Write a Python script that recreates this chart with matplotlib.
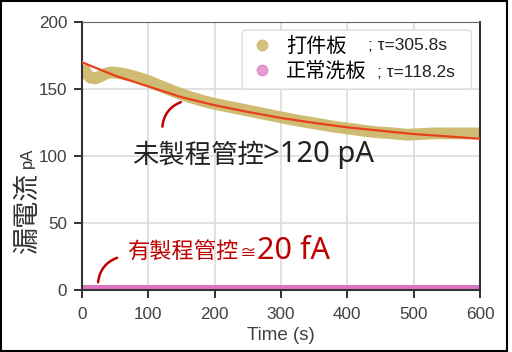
import matplotlib
matplotlib.use("Agg")
import matplotlib.pyplot as plt
from matplotlib.lines import Line2D
from matplotlib.patches import Rectangle, FancyBboxPatch

CJK = ["Noto Sans CJK TC", "DejaVu Sans"]
LATIN = ["Liberation Sans", "DejaVu Sans"]
MIXED = ["Noto Sans", "Noto Sans CJK TC", "DejaVu Sans"]

# measured leakage current of the "打件板" board (pA)
board_t = [0, 4, 8, 13, 20, 28, 36, 45, 55, 70, 85, 100, 120, 140, 160, 180,
           200, 230, 260, 290, 320, 350, 380, 410, 440, 470, 490, 510, 530, 560, 600]
board_pa = [167, 164, 161, 158.5, 158, 159.5, 161.5, 162.5, 162, 160.5, 158.5,
            156, 152, 148, 144.5, 141.5, 139, 136, 133, 130, 127, 124.5, 122, 120,
            118, 117, 116, 116.5, 117, 117, 117]

# fitted decay curve (tau = 305.8 s)
fit_t = [0, 50, 100, 150, 200, 250, 300, 350, 400, 450, 500, 550, 600]
fit_pa = [170, 160, 152, 144, 138, 133, 128.5, 124.8, 121.5, 119, 116.5, 114.8, 113]

# normally washed board, ~20 fA
clean_t = [0, 600]
clean_pa = [2.2, 2.2]

legend_names = ["打件板", "正常洗板"]
legend_taus = ["; τ=305.8s", "; τ=118.2s"]

TAN = "#cdb96a"
PINK = "#dd74bf"
FIT = "#e8401c"
DARKRED = "#c00000"
TXT = "#404040"

fig = plt.figure(figsize=(5.12, 3.52), dpi=100)
ax = fig.add_axes([0.160, 0.175, 0.7775, 0.7625])

ax.plot(board_t, board_pa, color=TAN, lw=8.5, alpha=0.95, solid_capstyle="butt", zorder=2)
ax.plot(fit_t, fit_pa, color=FIT, lw=1.6, zorder=3)
ax.plot(clean_t, clean_pa, color=PINK, lw=3.6, solid_capstyle="butt", zorder=2)

ax.set_xlim(0, 600)
ax.set_ylim(0, 200)
ax.set_xticks(range(0, 601, 100))
ax.set_yticks(range(0, 201, 50))
ax.grid(True, color="#dcdcdc", lw=1.2)
ax.set_axisbelow(True)
for s in ("left", "bottom", "right"):
    ax.spines[s].set_color("#333333")
    ax.spines[s].set_linewidth(1.5)
ax.spines["top"].set_color("#666666")
ax.tick_params(axis="both", colors="#333333", labelcolor=TXT, labelsize=12.3,
               length=5.5, width=1.4)
ax.tick_params(axis="x", pad=6.5)
ax.tick_params(axis="y", pad=5)
for lab in ax.get_xticklabels() + ax.get_yticklabels():
    lab.set_family(LATIN)
ax.set_xlabel("Time (s)", fontsize=13.5, color=TXT, family=LATIN, labelpad=3.5)

# y label: chinese part big, unit small
ax.text(-0.138, 0.292, "漏電流", rotation=90, transform=ax.transAxes,
        ha="center", va="center", fontsize=19.5, color="#333333", family=CJK)
ax.text(-0.138, 0.493, "pA", rotation=90, transform=ax.transAxes,
        ha="center", va="center", fontsize=12, color="#333333", family=LATIN)

# legend: frame drawn separately so the tau notes can sit beside the names
ax.add_patch(FancyBboxPatch((0.4025, 0.750), 0.576, 0.220, transform=ax.transAxes,
                            boxstyle="round,pad=0,rounding_size=0.01",
                            facecolor="white", edgecolor="#dddddd", lw=1, zorder=4.5))
handles = [Line2D([], [], ls="", marker="o", ms=7.5, color=TAN, alpha=0.85),
           Line2D([], [], ls="", marker="o", ms=7.5, color=PINK, alpha=0.7)]
leg = ax.legend(handles, legend_names, loc="upper left",
                bbox_to_anchor=(0.4025, 0.970), prop={"family": CJK, "size": 14.5},
                handletextpad=0.5, handlelength=1.4, labelspacing=0.2, borderpad=0.3,
                borderaxespad=0, frameon=False)
leg.set_zorder(5)
for x, y, tau in zip([0.7195, 0.742], [0.914, 0.810], legend_taus):
    ax.text(x, y, tau, transform=ax.transAxes, ha="left", va="center",
            fontsize=12.5, color="#222222", family=LATIN, zorder=10)

# annotations: black text (chinese + latin part sized separately)
ax.annotate("", xy=(153, 141), xytext=(121, 120),
            arrowprops=dict(arrowstyle="-", color=DARKRED, lw=1.8,
                            connectionstyle="arc3,rad=-0.35"))
ax.text(75.5, 101, "未製程管控", fontsize=19, color="#222222", family=CJK,
        ha="left", va="center")
ax.text(273, 101, ">120 pA", fontsize=21, color="#222222", family=MIXED,
        ha="left", va="center")

ax.annotate("", xy=(57, 25), xytext=(24, 4),
            arrowprops=dict(arrowstyle="-", color=DARKRED, lw=1.8,
                            connectionstyle="arc3,rad=-0.35"))
ax.text(68, 29, "有製程管控", fontsize=16, color=DARKRED, family=CJK,
        ha="left", va="center")
ax.text(238, 27, "≅", fontsize=12, color=DARKRED, family=MIXED,
        ha="left", va="center")
ax.text(264, 29, "20 fA", fontsize=22, color=DARKRED, family=MIXED,
        ha="left", va="center")

# outer frame of the picture
fig.patches.append(Rectangle((0.002, 0.004), 0.988, 0.992, transform=fig.transFigure,
                             fill=False, edgecolor="black", lw=1.5))

fig.savefig("out.png", dpi=100)
